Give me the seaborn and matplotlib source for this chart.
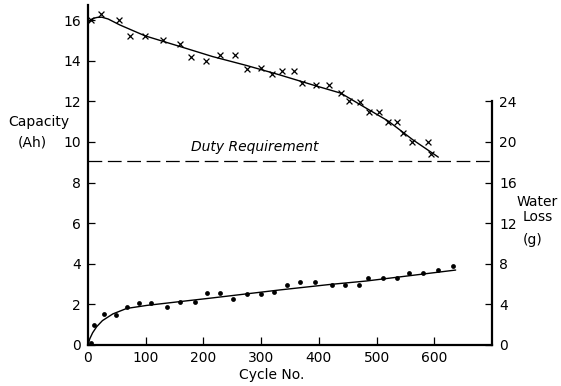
import matplotlib
matplotlib.use("Agg")
import matplotlib.pyplot as plt
import pandas as pd
import seaborn as sns

# capacity measurements (crosses), Ah
cap_cycles = [5, 23, 54, 73, 99, 130, 159, 178, 205, 228, 254, 276, 300, 318, 337,
              357, 371, 395, 417, 438, 453, 472, 487, 505, 520, 535, 545, 562, 589, 595]
cap_values = [16.0, 16.3, 16.0, 15.2, 15.2, 15.0, 14.8, 14.2, 14.0, 14.3, 14.3, 13.6, 13.65, 13.35, 13.5,
              13.5, 12.9, 12.8, 12.8, 12.4, 12.0, 11.95, 11.45, 11.45, 11.0, 11.0, 10.45, 10.0, 10.0, 9.4]

# smoothed capacity curve
cap_fit_cycles = [1, 5, 9, 16, 24, 35, 55, 99, 159, 216, 275, 332, 390, 438, 482, 520, 563, 607]
cap_fit_values = [15.9, 16.02, 16.08, 16.13, 16.14, 16.05, 15.76, 15.22, 14.7, 14.2, 13.76, 13.3,
                  12.8, 12.4, 11.66, 11.03, 10.1, 9.25]

# water loss measurements (dots), g
water_cycles = [6, 10, 27, 48, 67, 88, 110, 137, 160, 185, 207, 228, 251, 276, 299,
                323, 344, 367, 394, 422, 445, 469, 485, 511, 535, 557, 581, 607, 633]
water_values = [0.2, 1.94, 3.06, 2.98, 3.72, 4.1, 4.1, 3.78, 4.24, 4.24, 5.16, 5.16, 4.56, 5.02, 5.02,
                5.26, 5.92, 6.24, 6.18, 5.92, 5.92, 5.92, 6.56, 6.56, 6.56, 7.06, 7.06, 7.38, 7.78]

# smoothed water loss curve
water_fit_cycles = [0, 3, 8, 15, 25, 43, 67, 102, 148, 216, 332, 419, 482, 637]
water_fit_values = [0.0, 0.6, 1.2, 1.8, 2.4, 3.06, 3.6, 3.9, 4.2, 4.64, 5.42, 5.96, 6.3, 7.38]

duty_requirement = 9.05

INK = "black"
FONT = 10

sns.set_style("ticks")
plt.rcParams["font.family"] = ["DejaVu Sans"]
plt.rcParams["text.color"] = INK

cap = pd.DataFrame({"cycle": cap_cycles, "capacity": cap_values})
cap_fit = pd.DataFrame({"cycle": cap_fit_cycles, "capacity": cap_fit_values})
water = pd.DataFrame({"cycle": water_cycles, "loss": water_values})
water_fit = pd.DataFrame({"cycle": water_fit_cycles, "loss": water_fit_values})

fig = plt.figure(figsize=(5.61, 3.86), dpi=100)
ax = fig.add_axes([88 / 561, 1 - 345 / 386, (492 - 88) / 561, 340 / 386])
ax2 = ax.twinx()

sns.lineplot(data=cap_fit, x="cycle", y="capacity", ax=ax, color=INK, linewidth=1.0,
             estimator=None, sort=False)
sns.scatterplot(data=cap, x="cycle", y="capacity", ax=ax, marker="x", color=INK,
                s=18, linewidth=0.9)
ax.axhline(duty_requirement, color=INK, linewidth=0.9, dashes=(11, 4.5))
ax.text(289, duty_requirement + 0.72, "Duty Requirement", ha="center", va="center",
        fontsize=FONT, style="italic", color=INK)

sns.lineplot(data=water_fit, x="cycle", y="loss", ax=ax2, color=INK, linewidth=1.0,
             estimator=None, sort=False)
sns.scatterplot(data=water, x="cycle", y="loss", ax=ax2, marker="o", color=INK,
                s=12, linewidth=0, clip_on=False)

ax.set_xlim(0, 700)
ax.set_ylim(0, 16.74)
ax2.set_ylim(0, 16.74 * 2)
ax.set_xticks(range(0, 700, 100))
ax.set_yticks(range(0, 17, 2))
ax2.set_yticks(range(0, 25, 4))
ax2.spines["right"].set_bounds(0, 24)

for a in (ax, ax2):
    a.set_xlabel("")
    a.set_ylabel("")
    a.spines["top"].set_visible(False)
    for side in ("left", "right", "bottom"):
        a.spines[side].set_linewidth(1.6)
        a.spines[side].set_color(INK)
ax.spines["right"].set_visible(False)
ax2.spines["left"].set_visible(False)
ax2.spines["bottom"].set_visible(False)

ax.tick_params(axis="both", direction="in", length=5, width=0.9, labelsize=FONT,
               colors=INK, pad=5)
ax.tick_params(axis="x", length=6, pad=4)
ax2.tick_params(axis="y", direction="in", length=5, width=0.9, labelsize=FONT,
                colors=INK, pad=5)

fig.text(39 / 561, 1 - 122 / 386, "Capacity", ha="center", va="center", fontsize=FONT)
fig.text(32 / 561, 1 - 143 / 386, "(Ah)", ha="center", va="center", fontsize=FONT)
fig.text(537 / 561, 1 - 202 / 386, "Water", ha="center", va="center", fontsize=FONT)
fig.text(538 / 561, 1 - 217 / 386, "Loss", ha="center", va="center", fontsize=FONT)
fig.text(533 / 561, 1 - 240 / 386, "(g)", ha="center", va="center", fontsize=FONT)
fig.text(272 / 561, 1 - 375 / 386, "Cycle No.", ha="center", va="center", fontsize=FONT)

fig.savefig("out.png", dpi=100, facecolor="white")
